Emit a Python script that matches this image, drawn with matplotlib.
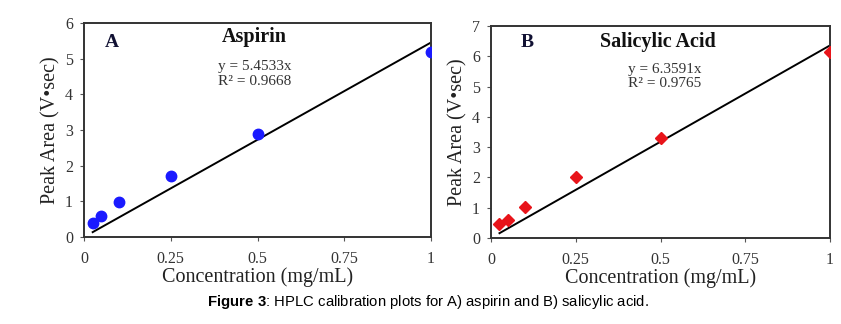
import matplotlib
matplotlib.use("Agg")
import matplotlib.pyplot as plt
import numpy as np

conc = [0.025, 0.05, 0.1, 0.25, 0.5, 1.0]
aspirin_area = [0.38, 0.60, 0.98, 1.72, 2.90, 5.20]
salicylic_area = [0.45, 0.58, 1.02, 2.02, 3.30, 6.13]
aspirin_slope = 5.4533
salicylic_slope = 6.3591
x_ticks = [0, 0.25, 0.5, 0.75, 1]
x_ticklabels = ["0", "0.25", "0.5", "0.75", "1"]

plt.rcParams["mathtext.fontset"] = "custom"
plt.rcParams["mathtext.bf"] = "Liberation Sans:bold"
plt.rcParams["mathtext.rm"] = "Liberation Sans"

fig = plt.figure(figsize=(8.41, 3.24), dpi=100)
serif = "Liberation Serif"

axA = fig.add_axes([84/841, 1-237/324, (431-84)/841, (237-23)/324])
axB = fig.add_axes([491/841, 1-238/324, (830-491)/841, (238-26)/324])

panels = [
    (axA, aspirin_area, aspirin_slope, "A", "Aspirin", "y = 5.4533x\nR² = 0.9668",
     "o", "#1a1aff", 6, (0.081, 0.907), (0.49, 0.935), (0.386, 0.762), 7.5),
    (axB, salicylic_area, salicylic_slope, "B", "Salicylic Acid", "y = 6.3591x\nR² = 0.9765",
     "D", "#e8141a", 7, (0.106, 0.92), (0.493, 0.925), (0.404, 0.762), 6.5),
]

for ax, y, slope, letter, title, eq, marker, color, ymax, lpos, tpos, epos, ms in panels:
    xs = np.array([conc[0], conc[-1]])
    ax.plot(xs, slope * xs, color="black", lw=1.4, zorder=2)
    ax.plot(conc, y, linestyle="none", marker=marker, color=color, ms=ms, zorder=3)
    ax.set_xlim(0, 1)
    ax.set_ylim(0, ymax)
    ax.set_xticks(x_ticks)
    ax.set_xticklabels(x_ticklabels)
    ax.set_yticks(range(0, ymax + 1))
    ax.tick_params(direction="out", length=3, width=0.8, colors="#555555",
                   labelcolor="#333333", labelsize=11.5)
    ax.tick_params(axis="y", pad=5)
    ax.tick_params(axis="x", pad=7)
    for lab in ax.get_xticklabels() + ax.get_yticklabels():
        lab.set_family(serif)
    for sp in ax.spines.values():
        sp.set_color("#333333")
        sp.set_linewidth(1.4)
    ax.set_xlabel("Concentration (mg/mL)", family=serif, fontsize=14.5, color="#222222", labelpad=0)
    ax.set_ylabel("Peak Area (V•sec)", family=serif, fontsize=14.5, color="#222222", labelpad=3)
    ax.text(lpos[0], lpos[1], letter, transform=ax.transAxes, family=serif, fontsize=14,
            fontweight="bold", ha="center", va="center", color="#111133")
    ax.text(tpos[0], tpos[1], title, transform=ax.transAxes, family=serif, fontsize=14.5,
            fontweight="bold", ha="center", va="center", color="#111111")
    ax.text(epos[0], epos[1], eq, transform=ax.transAxes, family=serif, fontsize=11,
            ha="left", va="center", color="#333333", linespacing=1.15)

fig.text(428/841, 1-302/324, r"$\mathbf{Figure\ 3}$: HPLC calibration plots for A) aspirin and B) salicylic acid.",
         ha="center", va="center", family="Liberation Sans", fontsize=10.7)

fig.savefig("out.png", dpi=100)
